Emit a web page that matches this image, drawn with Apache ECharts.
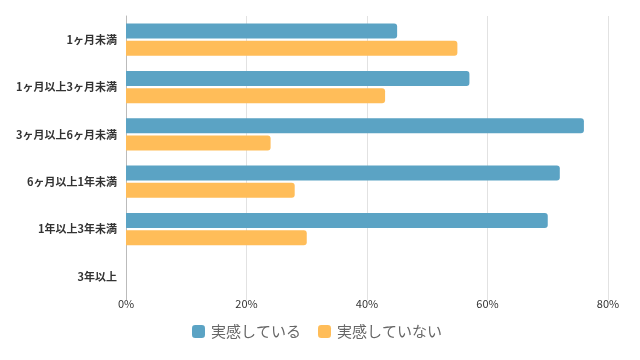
<!DOCTYPE html>
<html>
<head>
<meta charset="utf-8">
<script src="https://cdn.jsdelivr.net/npm/echarts@6/dist/echarts.min.js"></script>
<style>
html, body { margin: 0; padding: 0; background: #fff; }
#container { width: 640px; height: 360px; }
</style>
</head>
<body>
<div id="container"></div>
<script>
var categories = ['1ヶ月未満', '1ヶ月以上3ヶ月未満', '3ヶ月以上6ヶ月未満', '6ヶ月以上1年未満', '1年以上3年未満', '3年以上'];
var jikkanShiteiru = [45, 57, 76, 72, 70, 0];
var jikkanShiteinai = [55, 43, 24, 28, 30, 0];
var xTicks = [0, 20, 40, 60, 80];

var dom = document.getElementById("container");
var myChart = echarts.init(dom);
var font = '"Noto Sans CJK JP", "Noto Sans", sans-serif';

var option = {
    textStyle: { fontFamily: font },
    animation: false,
    grid: {
        left: 126,
        right: 32,
        top: 16,
        bottom: 60
    },
    legend: {
        data: ['実感している', '実感していない'],
        bottom: 16,
        left: 187,
        itemWidth: 13,
        itemHeight: 13,
        itemGap: 17,
        icon: 'roundRect',
        textStyle: { fontSize: 15, color: '#666', fontFamily: font, padding: [0, 0, 0, 1] }
    },
    xAxis: {
        type: 'value',
        min: xTicks[0],
        max: xTicks[xTicks.length - 1],
        interval: 20,
        axisLine: { show: false },
        axisTick: { show: false },
        axisLabel: {
            formatter: '{value}%',
            fontSize: 11,
            color: '#333',
            margin: -2
        },
        splitLine: { lineStyle: { color: '#e2e2e2' } }
    },
    yAxis: {
        type: 'category',
        inverse: true,
        data: categories,
        axisLine: { show: true, lineStyle: { color: '#bbb' } },
        axisTick: { show: false },
        axisLabel: {
            fontSize: 11,
            color: '#333',
            fontWeight: 'bold',
            margin: 9
        }
    },
    series: [
        {
            name: '実感している',
            type: 'bar',
            data: jikkanShiteiru,
            barWidth: 15,
            barGap: '15%',
            itemStyle: { color: '#5BA3C4', borderRadius: [0, 3, 3, 0] }
        },
        {
            name: '実感していない',
            type: 'bar',
            data: jikkanShiteinai,
            barWidth: 15,
            itemStyle: { color: '#FFBD59', borderRadius: [0, 3, 3, 0] }
        }
    ]
};

myChart.setOption(option, true);
window.onresize = function () { myChart.resize(); };
</script>
</body>
</html>
